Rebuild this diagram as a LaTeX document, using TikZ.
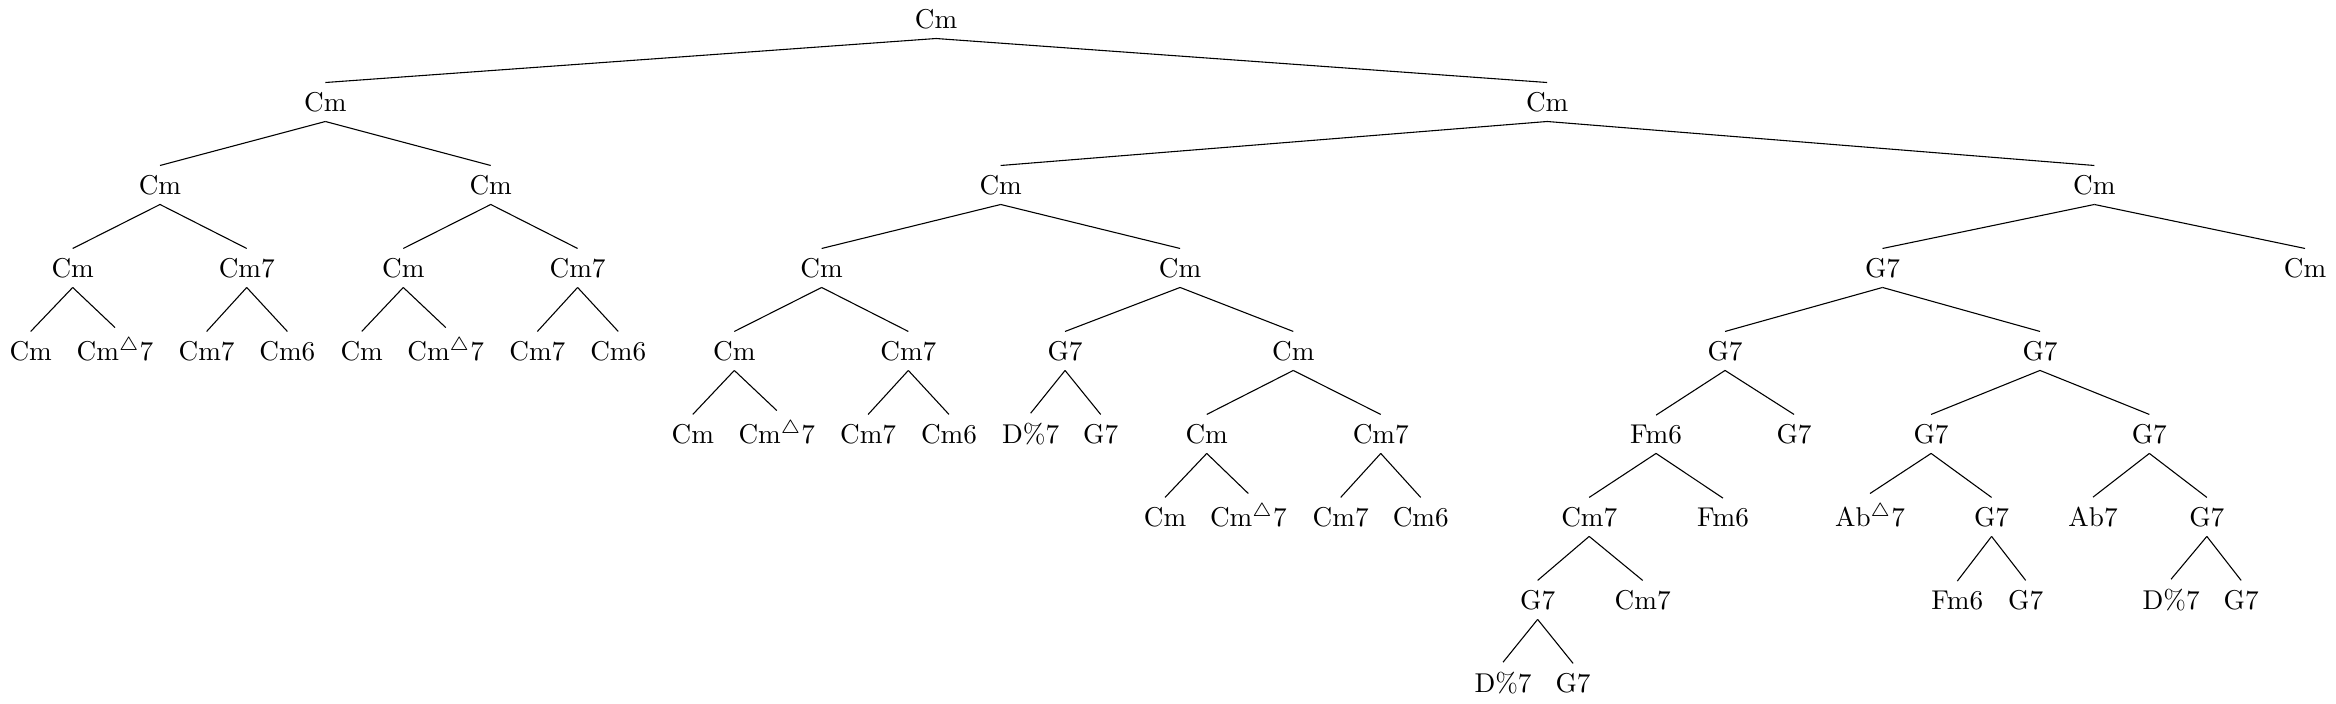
\documentclass[tikz,border=0pt]{standalone}
\usepackage{amsmath,amssymb}
\usepackage{tikz}

\begin{document}
\begin{tikzpicture}[x=0.01925cm, y=-0.01925cm, chord/.style={anchor=base}]
    \useasboundingbox (0,0) rectangle (1568,472);
    % root and first split
    \node[chord] (t)  at (628.3,19) {Cm};
    \node[chord] (t1) at (218.4,74.7) {Cm};
    \node[chord] (t2) at (1038.5,74.7) {Cm};
    % left half
    \node[chord] (t11) at (107.4,130.4) {Cm};
    \node[chord] (t12) at (329.4,130.4) {Cm};
    \node[chord] (t111) at (48.8,186.1) {Cm};
    \node[chord] (t112) at (165.6,186.1) {Cm7};
    \node[chord] (t121) at (270.7,186.1) {Cm};
    \node[chord] (t122) at (387.7,186.1) {Cm7};
    \node[chord] (t1111) at (20.6,241.8) {Cm};
    \node[chord] (t1112) at (77.2,241.8) {Cm$^\triangle$7};
    \node[chord] (t1121) at (138.7,241.8) {Cm7};
    \node[chord] (t1122) at (192.9,241.8) {Cm6};
    \node[chord] (t1211) at (242.8,241.8) {Cm};
    \node[chord] (t1212) at (299.2,241.8) {Cm$^\triangle$7};
    \node[chord] (t1221) at (360.7,241.8) {Cm7};
    \node[chord] (t1222) at (415,241.8) {Cm6};
    % right half, left part
    \node[chord] (t21) at (671.7,130.4) {Cm};
    \node[chord] (t211) at (551.5,186.1) {Cm};
    \node[chord] (t212) at (792.1,186.1) {Cm};
    \node[chord] (t2111) at (492.9,241.8) {Cm};
    \node[chord] (t2112) at (609.7,241.8) {Cm7};
    \node[chord] (t21111) at (465,297.5) {Cm};
    \node[chord] (t21112) at (521.4,297.5) {Cm$^\triangle$7};
    \node[chord] (t21121) at (582.7,297.5) {Cm7};
    \node[chord] (t21122) at (637,297.5) {Cm6};
    \node[chord] (t2121) at (714.9,241.8) {G7};
    \node[chord] (t2122) at (868.1,241.8) {Cm};
    \node[chord] (t21211) at (691.8,297.5) {D\%7};
    \node[chord] (t21212) at (738.8,297.5) {G7};
    \node[chord] (t21221) at (810,297.5) {Cm};
    \node[chord] (t21222) at (926.8,297.5) {Cm7};
    \node[chord] (t212211) at (782,353.2) {Cm};
    \node[chord] (t212212) at (837.9,353.2) {Cm$^\triangle$7};
    \node[chord] (t212221) at (899.9,353.2) {Cm7};
    \node[chord] (t212222) at (953.6,353.2) {Cm6};
    % right half, right part
    \node[chord] (t22) at (1405.8,130.4) {Cm};
    \node[chord] (t221) at (1263.6,186.1) {G7};
    \node[chord] (t222) at (1547.2,186.1) {Cm};
    \node[chord] (t2211) at (1157.9,241.8) {G7};
    \node[chord] (t2212) at (1369.3,241.8) {G7};
    \node[chord] (t22111) at (1111.6,297.5) {Fm6};
    \node[chord] (t22112) at (1204.2,297.5) {G7};
    \node[chord] (t221111) at (1066.7,353.2) {Cm7};
    \node[chord] (t221112) at (1156.5,353.2) {Fm6};
    \node[chord] (t2211111) at (1032.1,408.9) {G7};
    \node[chord] (t2211112) at (1102.6,408.9) {Cm7};
    \node[chord] (t22111111) at (1008.9,464.6) {D\%7};
    \node[chord] (t22111112) at (1055.9,464.6) {G7};
    \node[chord] (t22121) at (1296.2,297.5) {G7};
    \node[chord] (t22122) at (1442.7,297.5) {G7};
    \node[chord] (t221211) at (1255.2,353.2) {Ab$^\triangle$7};
    \node[chord] (t221212) at (1336.8,353.2) {G7};
    \node[chord] (t221221) at (1404.9,353.2) {Ab7};
    \node[chord] (t221222) at (1481.3,353.2) {G7};
    \node[chord] (t2212121) at (1313.8,408.9) {Fm6};
    \node[chord] (t2212122) at (1359.7,408.9) {G7};
    \node[chord] (t2212221) at (1457.3,408.9) {D\%7};
    \node[chord] (t2212222) at (1504.3,408.9) {G7};
    % edges
    \foreach \p/\c in {t/t1,t/t2,t1/t11,t1/t12,t11/t111,t11/t112,t12/t121,t12/t122,
        t111/t1111,t111/t1112,t112/t1121,t112/t1122,t121/t1211,t121/t1212,t122/t1221,t122/t1222,
        t2/t21,t2/t22,t21/t211,t21/t212,t211/t2111,t211/t2112,
        t2111/t21111,t2111/t21112,t2112/t21121,t2112/t21122,
        t212/t2121,t212/t2122,t2121/t21211,t2121/t21212,t2122/t21221,t2122/t21222,
        t21221/t212211,t21221/t212212,t21222/t212221,t21222/t212222,
        t22/t221,t22/t222,t221/t2211,t221/t2212,t2211/t22111,t2211/t22112,
        t22111/t221111,t22111/t221112,t221111/t2211111,t221111/t2211112,
        t2211111/t22111111,t2211111/t22111112,
        t2212/t22121,t2212/t22122,t22121/t221211,t22121/t221212,t22122/t221221,t22122/t221222,
        t221212/t2212121,t221212/t2212122,t221222/t2212221,t221222/t2212222}
      \draw (\p.south) -- (\c.north);
\end{tikzpicture}
\end{document}
